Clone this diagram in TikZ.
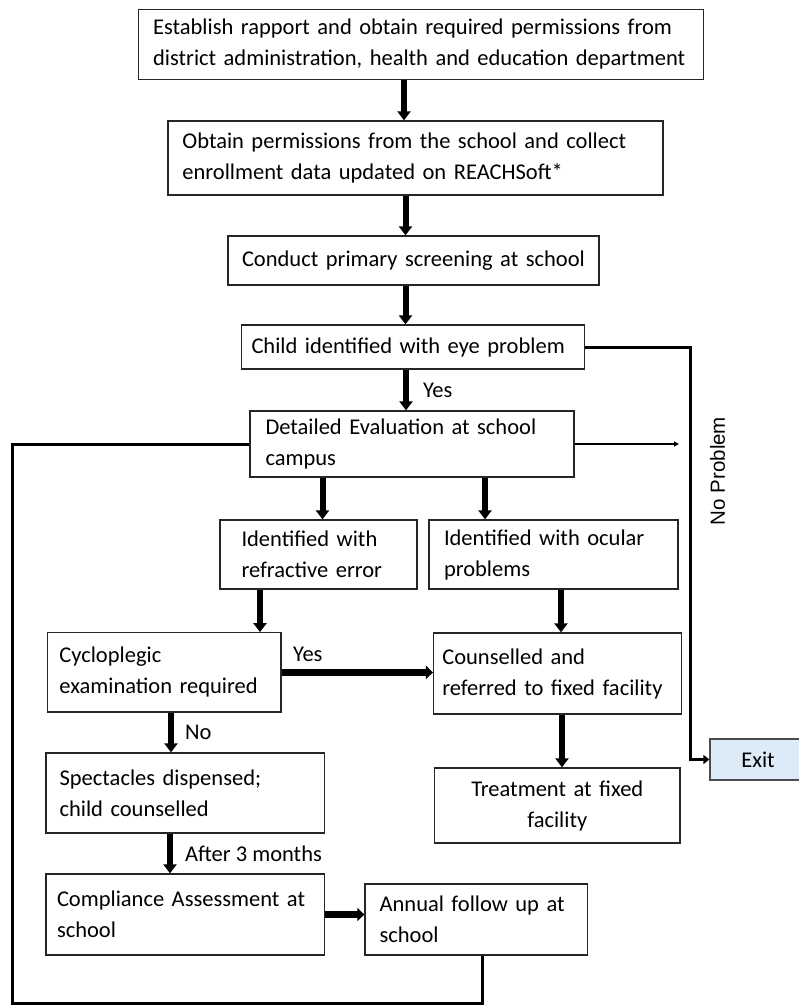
\documentclass[tikz,border=0pt]{standalone}
\usepackage{fontspec}
\setmainfont{Carlito}
\newfontfamily\arialf{Liberation Sans}
\usetikzlibrary{arrows.meta}
\definecolor{exitblue}{RGB}{220,235,247}
\newcommand\myfs{\fontsize{22.5}{31}\selectfont}
\begin{document}
\begin{tikzpicture}[x=1pt,y=-1pt,
  box/.style={draw=black!85, line width=1.3pt, align=left, inner ysep=0pt, font=\myfs, anchor=center},
  arr/.style={line width=6pt, -{Triangle[length=9pt,width=13pt]}},
  harr/.style={line width=7pt, -{Triangle[length=7pt,width=13pt]}},
  loopline/.style={line width=3pt, line join=miter},
  thinarr/.style={line width=1.8pt, -{Triangle[length=5pt,width=5pt]}},
  lab/.style={font=\myfs, inner sep=0pt}
]
\useasboundingbox (0,0) rectangle (799,1005);

\node[box, minimum width=564.6pt, minimum height=70pt, text width=535.6pt, inner xsep=14.5pt] (B1) at (420.9,44.3)
  {Establish rapport and obtain required permissions from\\district administration, health and education department};
\node[box, minimum width=495pt, minimum height=74pt, text width=466.2pt, inner xsep=14.4pt] (B2) at (415.5,158)
  {Obtain permissions from the school and collect\\enrollment data updated on REACHSoft*};
\node[box, minimum width=371pt, minimum height=49pt, text width=343pt, inner xsep=14pt] (B3) at (413.5,260.5)
  {Conduct primary screening at school};
\node[box, minimum width=343pt, minimum height=44pt, text width=323pt, inner xsep=10pt] (B4) at (413,347)
  {Child identified with eye problem};
\node[box, minimum width=324pt, minimum height=66pt, text width=293pt, inner xsep=15.5pt] (B5) at (412,444)
  {Detailed Evaluation at school\\campus};
\node[box, minimum width=197pt, minimum height=69pt, text width=154pt, inner xsep=21.5pt] (B6) at (318.5,554.5)
  {Identified with\\refractive error};
\node[box, minimum width=249pt, minimum height=69pt, text width=219pt, inner xsep=15pt] (B7) at (553.5,554.5)
  {Identified with ocular\\problems};
\node[box, minimum width=233.6pt, minimum height=79.3pt, text width=209.6pt, inner xsep=12pt] (B8) at (164.2,672.4)
  {Cycloplegic\\examination required};
\node[box, minimum width=248.2pt, minimum height=81pt, text width=230.8pt, inner xsep=8.7pt] (B9) at (557.7,673.5)
  {Counselled and\\referred to fixed facility};
\node[box, minimum width=278.6pt, minimum height=80pt, text width=251.4pt, inner xsep=13.6pt] (B10) at (185.3,793)
  {Spectacles dispensed;\\child counselled};
\node[box, minimum width=278.6pt, minimum height=81pt, text width=256.6pt, inner xsep=11pt] (B11) at (185.3,914.5)
  {Compliance Assessment at\\school};
\node[box, minimum width=222.5pt, minimum height=71pt, text width=193.3pt, inner xsep=14.6pt] (B12) at (476.25,919.5)
  {Annual follow up at\\school};
\node[box, align=center, minimum width=245.4pt, minimum height=75pt, text width=225.4pt, inner xsep=10pt] (B13) at (557.3,805.5)
  {Treatment at fixed\\facility};
\node[box, align=center, fill=exitblue, draw=black!70, minimum width=96pt, minimum height=41pt, text width=80pt, inner xsep=8pt] (EX) at (758,759.5)
  {Exit};

% main vertical arrows
\draw[arr] ([xshift=-16.9pt]B1.south) -- ([xshift=-16.9pt]B1.south |- B2.north);
\draw[arr] ([xshift=-10pt]B2.south) -- ([xshift=-10pt]B2.south |- B3.north);
\draw[arr] ([xshift=-8pt]B3.south) -- ([xshift=-8pt]B3.south |- B4.north);
\draw[arr] ([xshift=-7pt]B4.south) -- node[lab, anchor=west, xshift=14pt]{Yes} ([xshift=-7pt]B4.south |- B5.north);
\draw[arr] ([xshift=-89.5pt]B5.south) -- ([xshift=-89.5pt]B5.south |- B6.north);
\draw[arr] ([xshift=73pt]B5.south) -- ([xshift=73pt]B5.south |- B7.north);
\draw[arr] ([xshift=-58.5pt]B6.south) -- ([xshift=-58.5pt]B6.south |- B8.north);
\draw[arr] ([xshift=7.5pt]B7.south) -- ([xshift=7.5pt]B7.south |- B9.north);
\draw[harr] (B8.east) -- node[lab, pos=0, anchor=base west, xshift=8pt, yshift=11pt]{Yes} (B8.east -| B9.west);
\draw[arr] ([xshift=6.8pt]B8.south) -- node[lab, anchor=west, xshift=11pt]{No} ([xshift=6.8pt]B8.south |- B10.north);
\draw[arr] ([xshift=-15.3pt]B10.south) -- node[lab, anchor=west, xshift=12pt]{After 3 months} ([xshift=-15.3pt]B10.south |- B11.north);
\draw[arr] ([xshift=4.3pt]B9.south) -- ([xshift=4.3pt]B9.south |- B13.north);
\draw[harr] (B11.east) -- (B11.east -| B12.west);

% loop back
\coordinate (loopL) at (12.7,1003);
\draw[loopline] ([xshift=6.25pt]B12.south) -- ([xshift=6.25pt]B12.south |- loopL) -- (loopL) |- (B5.west);

% no problem route
\coordinate (npc) at (690,347);
\draw[loopline, -{Triangle[length=6pt,width=9pt]}] (B4.east) -- (npc) |- (EX.west);
\node[font=\arialf\fontsize{20.5}{24}\selectfont, rotate=90, inner sep=0pt] (NP) at (717.5,471) {No Problem};

% thin arrow
\coordinate (thinEnd) at (679,446);
\draw[thinarr] (B5.east) -- (B5.east -| thinEnd);
\end{tikzpicture}
\end{document}
